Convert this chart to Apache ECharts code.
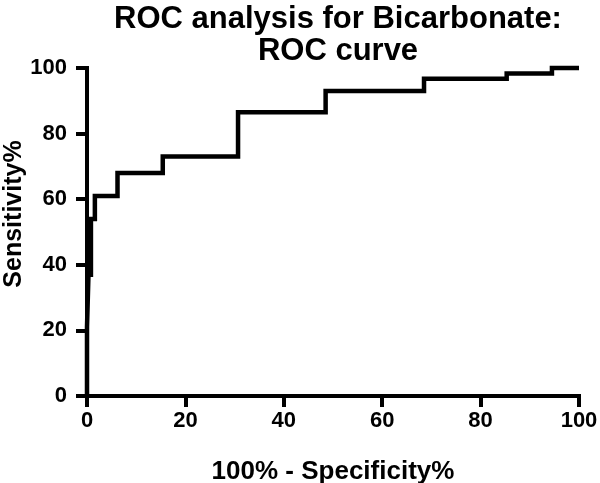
<!DOCTYPE html>
<html>
<head>
<meta charset="utf-8">
<script src="https://cdn.jsdelivr.net/npm/echarts@6/dist/echarts.min.js"></script>
<style>
html,body{margin:0;padding:0;background:#fff;}
#chart{width:600px;height:483px;}
</style>
</head>
<body>
<div id="chart"></div>
<script>
// ROC points: 100% - Specificity% (x) and Sensitivity% (y)
var specComplement = [0, 0, 0.3, 0.8, 1.6, 6.2, 15.4, 30.7, 48.5, 68.5, 85.3, 94.5, 100];
var sensitivity    = [0, 21, 37, 54, 61, 68, 73, 86.5, 93, 96.7, 98.3, 100, 100];
var xTicks = [0, 20, 40, 60, 80, 100];
var yTicks = [0, 20, 40, 60, 80, 100];
var titleText = 'ROC analysis for Bicarbonate:\nROC curve';
var xName = '100% - Specificity%';
var yName = 'Sensitivity%';

var pts = specComplement.map(function (x, i) { return [x, sensitivity[i]]; });
var font = 'Liberation Sans, Arial, Helvetica, sans-serif';

var chart = echarts.init(document.getElementById('chart'), null, {renderer: 'canvas'});
chart.setOption({
  animation: false,
  backgroundColor: '#fff',
  title: {
    text: titleText,
    left: 333, top: -2, textAlign: 'center',
    textStyle: {fontFamily: font, fontWeight: 'bold', fontSize: 31, lineHeight: 32, color: '#000'}
  },
  grid: {left: 87, right: 21, top: 68, bottom: 87, containLabel: false, outerBoundsMode: 'none'},
  xAxis: {
    type: 'value', min: xTicks[0], max: xTicks[xTicks.length - 1], interval: 20,
    name: xName, nameLocation: 'middle', nameGap: 63, nameMoveOverlap: false,
    nameTextStyle: {fontFamily: font, fontWeight: 'bold', fontSize: 26, color: '#000'},
    axisLine: {show: true, onZero: false, lineStyle: {color: '#000', width: 4, cap: 'square'}},
    axisTick: {show: true, length: 11, lineStyle: {color: '#000', width: 4}},
    axisLabel: {fontFamily: font, fontWeight: 'bold', fontSize: 22, color: '#000', margin: 14},
    splitLine: {show: false}
  },
  yAxis: {
    type: 'value', min: yTicks[0], max: yTicks[yTicks.length - 1], interval: 20,
    name: yName, nameLocation: 'middle', nameGap: 60, nameMoveOverlap: false,
    nameTextStyle: {fontFamily: font, fontWeight: 'bold', fontSize: 25, color: '#000', padding: [0, 0, 0, 36]},
    axisLine: {show: true, onZero: false, lineStyle: {color: '#000', width: 4, cap: 'square'}},
    axisTick: {show: true, length: 11, lineStyle: {color: '#000', width: 4}},
    axisLabel: {fontFamily: font, fontWeight: 'bold', fontSize: 22, color: '#000', margin: 20},
    splitLine: {show: false}
  },
  series: [{
    type: 'line', data: pts, step: 'end', showSymbol: false, symbol: 'none',
    lineStyle: {color: '#000', width: 4.5, join: 'miter', cap: 'butt'},
    clip: false
  }]
});
</script>
</body>
</html>
